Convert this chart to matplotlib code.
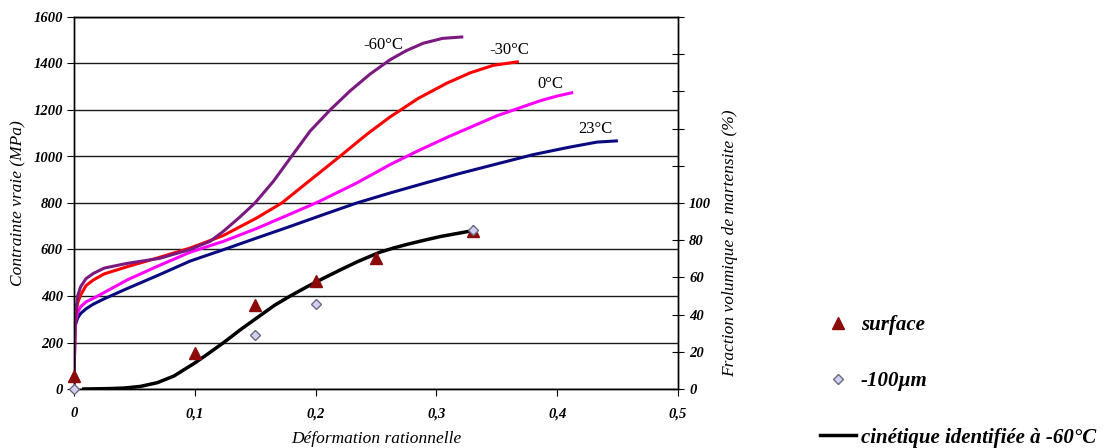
import matplotlib.pyplot as plt
from matplotlib.ticker import FixedLocator, FixedFormatter

# stress-strain curves (MPa)
x_m60 = [0, 0.0008, 0.003, 0.0055, 0.01, 0.016, 0.025, 0.0436, 0.071, 0.096, 0.1126, 0.1236,
         0.1374, 0.1498, 0.165, 0.180, 0.1954, 0.212, 0.2285, 0.245, 0.2616, 0.275, 0.289,
         0.305, 0.321]
y_m60 = [0, 300, 400, 440, 475, 497, 520, 540, 562, 600, 635, 678,
         740, 800, 893, 1000, 1109, 1200, 1282, 1354, 1416, 1455, 1487,
         1508, 1514]

x_m30 = [0, 0.0008, 0.003, 0.0055, 0.01, 0.016, 0.025, 0.044, 0.07, 0.096, 0.1236, 0.151,
         0.172, 0.1926, 0.220, 0.2423, 0.2616, 0.285, 0.3085, 0.328, 0.347, 0.367]
y_m30 = [0, 290, 370, 404, 445, 469, 495, 526, 565, 606, 660, 735,
         800, 886, 1000, 1095, 1170, 1250, 1315, 1360, 1392, 1407]

x_0 = [0, 0.0008, 0.003, 0.0055, 0.01, 0.016, 0.025, 0.044, 0.07, 0.096, 0.1236, 0.151,
       0.1788, 0.2023, 0.234, 0.2616, 0.285, 0.31, 0.35, 0.386, 0.4, 0.412]
y_0 = [0, 280, 330, 354, 375, 390, 415, 469, 530, 588, 635, 690,
       752, 805, 886, 965, 1025, 1085, 1175, 1240, 1260, 1274]

x_23 = [0, 0.0008, 0.003, 0.0055, 0.01, 0.016, 0.025, 0.044, 0.07, 0.096, 0.1236, 0.151,
        0.1788, 0.2064, 0.234, 0.2616, 0.29, 0.32, 0.35, 0.38, 0.41, 0.433, 0.449]
y_23 = [0, 270, 305, 325, 345, 365, 388, 432, 490, 550, 599, 649,
        699, 750, 800, 843, 885, 928, 968, 1008, 1040, 1062, 1067]

# martensite fraction (%)
x_kin = [0.008, 0.0276, 0.0414, 0.055, 0.069, 0.0828, 0.1, 0.11, 0.124, 0.138, 0.152, 0.166,
         0.179, 0.193, 0.207, 0.221, 0.2345, 0.253, 0.265, 0.276, 0.29, 0.3035, 0.329]
y_kin = [0, 0.2, 0.5, 1.4, 3.4, 7, 14, 18.5, 25, 32, 38.5, 45,
         50, 55, 59.7, 64.2, 68.4, 73.5, 75.9, 77.8, 80, 82, 85]

x_surf = [0, 0.1, 0.15, 0.2, 0.25, 0.33]
y_surf = [7, 19.3, 45, 58, 70.5, 85]
x_100 = [0, 0.15, 0.2, 0.33]
y_100 = [0, 29, 45.5, 85.4]

curve_labels = ['-60°C', '-30°C', '0°C', '23°C']
label_pos = [(0.256, 1480), (0.360, 1456), (0.394, 1310), (0.432, 1118)]

xticks = [0, 0.1, 0.2, 0.3, 0.4, 0.5]
xticklabels = ['0', '0,1', '0,2', '0,3', '0,4', '0,5']
yticks = list(range(0, 1601, 200))
y2ticks = list(range(0, 201, 20))
y2ticklabels = [str(v) if v <= 100 else '' for v in y2ticks]

serif = 'Liberation Serif'

fig = plt.figure(figsize=(11.07, 4.48), dpi=100)
ax = fig.add_axes([74/1107, 1-389/448, 604/1107, 372/448])
ax2 = ax.twinx()

ax.plot(x_23, y_23, color='#0a0a80', lw=2.2, zorder=3)
ax.plot(x_0, y_0, color='#ff00ff', lw=2.2, zorder=3)
ax.plot(x_m30, y_m30, color='#ff0000', lw=2.2, zorder=3)
ax.plot(x_m60, y_m60, color='#7a1a80', lw=2.2, zorder=3)

for lab, (px, py) in zip(curve_labels, label_pos):
    ax.text(px, py, lab, ha='center', va='center', fontsize=12, family=serif)

kin, = ax2.plot(x_kin, y_kin, color='black', lw=2.5, zorder=3)
surf, = ax2.plot(x_surf, y_surf, ls='none', marker='^', ms=8.5, color='#8b0a0a',
                 mec='#8b0a0a', zorder=4, clip_on=False)
d100, = ax2.plot(x_100, y_100, ls='none', marker='D', ms=5.5, mfc='#d0d0f5',
                 mec='#6a6a80', mew=1, zorder=5, clip_on=False)

ax.set_xlim(0, 0.5)
ax.set_ylim(0, 1600)
ax2.set_ylim(0, 200)

ax.yaxis.grid(True, color='#1a1a1a', lw=1)
ax.set_axisbelow(True)
for a in (ax, ax2):
    for sp in a.spines.values():
        sp.set_color('black')
        sp.set_linewidth(1)

tick_font = dict(family=serif, style='italic', weight='bold', size=10.5)

ax.set_xticks(xticks)
ax.set_xticklabels(xticklabels, **tick_font)
ax.set_yticks(yticks)
ax.set_yticklabels([str(v) for v in yticks], **tick_font)
ax.tick_params(axis='x', direction='out', length=5, pad=8)
ax.tick_params(axis='y', direction='out', length=5, pad=3)

ax2.yaxis.set_major_locator(FixedLocator(y2ticks))
ax2.yaxis.set_major_formatter(FixedFormatter(y2ticklabels))
ax2.tick_params(axis='y', direction='inout', length=8, pad=4)
for t in ax2.get_yticklabels():
    t.set_family(serif)
    t.set_style('italic')
    t.set_weight('bold')
    t.set_size(10.5)

label_font = dict(family=serif, style='italic', size=12.5)
ax.set_ylabel('Contrainte vraie (MPa)', **label_font)
ax.yaxis.set_label_coords(-0.079, 0.5)
ax.set_xlabel('Déformation rationnelle', **label_font)
ax.xaxis.set_label_coords(0.5, -0.112)
ax2.set_ylabel('Fraction volumique de martensite (%)', **label_font)
ax2.yaxis.set_label_coords(1.073, 0.392)

fig.legend([surf, d100, kin], ['surface', '-100µm', 'cinétique identifiée à -60°C'],
           loc='upper left', bbox_to_anchor=(810/1107, 1-305/448), frameon=False,
           borderpad=0, labelspacing=1.73, handlelength=1.7, handletextpad=0.25,
           prop=dict(family=serif, style='italic', weight='bold', size=15))

fig.savefig('out.png', dpi=100)
